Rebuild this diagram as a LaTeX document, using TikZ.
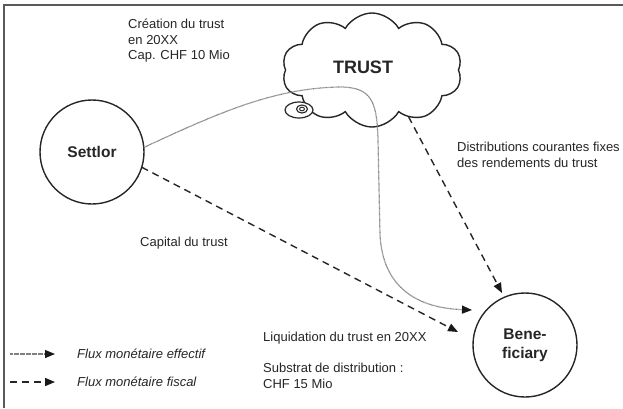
\documentclass[tikz,border=0pt]{standalone}
\usepackage{fontspec}
\setmainfont{Liberation Sans}
\usetikzlibrary{arrows.meta,shapes.symbols,shapes.geometric}
\begin{document}
\begin{tikzpicture}[x=1pt,y=-1pt,
  txt/.style={font=\fontsize{13}{15.5}\selectfont, inner sep=0pt, anchor=west, align=left, text=black!85},
  party/.style={circle, draw=black!85, line width=1.4pt, minimum size=104pt, inner sep=0pt, outer sep=0pt,
    font=\fontsize{15.5}{19}\selectfont\bfseries, align=center, text=black!85},
  tip/.style={-{Triangle[length=10pt,width=8pt,color=black!90]}},
  fiscal/.style={draw=black!85, line width=1.4pt, dash pattern=on 7pt off 5pt, tip},
  effectif/.style={draw=black!50, line width=1.2pt, dash pattern=on 0.7pt off 0.5pt, tip}
]
\useasboundingbox (0,0) rectangle (623,408);
\fill[white] (0,0) rectangle (623,408);
% frame (top and left edges visible)
\draw[black!65, line width=1.5pt] (4,408) -- (4,5) -- (623,5);

% nodes
\node[party] (settlor) at (92,152) {Settlor};
\node[party] (benef) at (525,345) {Bene-\\ficiary};
\node[cloud, cloud puffs=10, cloud puff arc=120, aspect=1.55, draw=black!85, line width=1.4pt,
  minimum width=180pt, minimum height=114pt, inner sep=0pt, outer sep=0pt] (trust) at (372,70) {};
\node[font=\fontsize{18}{20}\selectfont\bfseries, text=black!85, inner sep=0pt] (trustlbl) at (363,67) {TRUST};
% thought bubble
\draw[black!85, line width=1.2pt, fill=white] (299,110) ellipse [x radius=14, y radius=8];
\draw[black!85, line width=1.1pt] (302,109) ellipse [x radius=5.5, y radius=4];
\draw[black!85, line width=0.9pt] (302,109) ellipse [x radius=2.5, y radius=1.8];

% texts
\node[txt] (creation) at (128,41) {Création du trust\\en 20XX\\Cap. CHF 10 Mio};
\node[txt] (distrib) at (457,155) {Distributions courantes fixes\\des rendements du trust};
\node[txt] (capital) at (140,243) {Capital du trust};
\node[txt] (liquid) at (263,338) {Liquidation du trust en 20XX};
\node[txt] (substrat) at (263,376) {Substrat de distribution :\\CHF 15 Mio};

% connectors
\draw[effectif] (settlor.5) .. controls (220,112) and (275,88) .. (340,87)
  .. controls (372,87) and (377,102) .. (378,140) -- (380,235)
  .. controls (383,290) and (420,308) .. ([shift={(-53,-35)}]benef.center) ;
\draw[fiscal] (settlor.-17) -- ([shift={(-67,-13)}]benef.center);
\draw[fiscal] (trust.-52) -- ([shift={(-23,-52)}]benef.center);

% legend
\coordinate (l1a) at (10,354); \coordinate (l1b) at (55,354);
\coordinate (l2a) at (10,382); \coordinate (l2b) at (55,382);
\draw[effectif] (l1a) -- (l1b);
\draw[fiscal] (l2a) -- (l2b);
\node[txt, font=\fontsize{13}{15.5}\selectfont\itshape] (leg1) at (77,354) {Flux monétaire effectif};
\node[txt, font=\fontsize{13}{15.5}\selectfont\itshape] (leg2) at (77,382) {Flux monétaire fiscal};
\end{tikzpicture}
\end{document}
